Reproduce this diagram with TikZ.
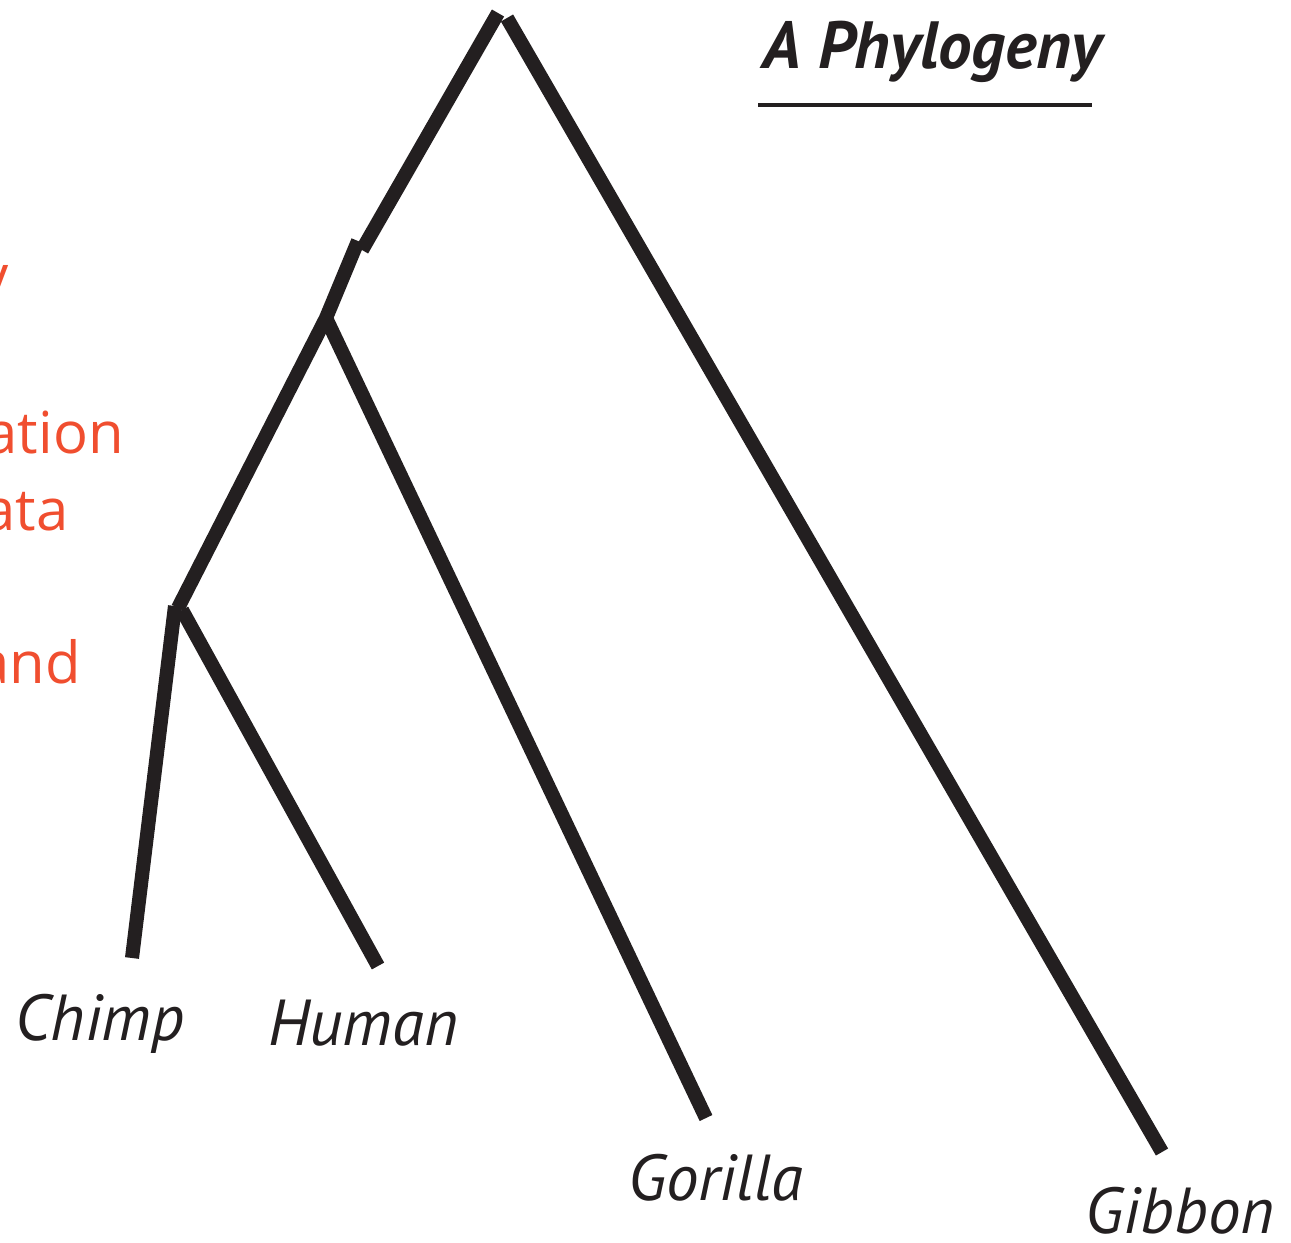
\documentclass[tikz,border=0pt]{standalone}
\usepackage{fontspec}
\setmainfont{PT Sans}
\newfontfamily\notefont{Open Sans}
\usepackage{xcolor}
\usepackage{tikz}
\usetikzlibrary{positioning}
\definecolor{ink}{HTML}{231F20}
\definecolor{note}{HTML}{F04E2F}

\begin{document}
\begin{tikzpicture}[x=0.02cm, y=-0.02cm, branch/.style={line width=8pt, draw=ink}, taxon/.style={font=\itshape\fontsize{37}{42}\selectfont, text=ink, inner sep=0pt, anchor=base}, remark/.style={font=\notefont\fontsize{33}{40}\selectfont, text=note, inner sep=0pt, anchor=base east}]
\useasboundingbox (0,0) rectangle (1291,1242);
\clip (0,0) rectangle (1291,1242);
% tree points
\coordinate (rootL) at (498,13);
\coordinate (rootR) at (507,18);
\coordinate (rootEnd) at (362,250);
\coordinate (hcgTop) at (358,241);
\coordinate (hcg) at (326,318);
\coordinate (hc) at (178,608);
\coordinate (hcL) at (175,606);
\coordinate (hcR) at (182,610);
\node[taxon] (chimp) at (100,1040) {Chimp};
\node[taxon] (human) at (363,1045) {Human};
\node[taxon] (gorilla) at (716,1200) {Gorilla};
\node[taxon] (gibbon) at (1180,1233) {Gibbon};
\coordinate (chimpTip) at (132,958);
\coordinate (humanTip) at (378,966);
\coordinate (gorillaTip) at (706,1118);
\coordinate (gibbonTip) at (1162,1152);
\draw[branch] (rootL) -- (rootEnd);
\draw[branch] (rootR) -- (gibbonTip);
\draw[branch] (hcgTop) -- (hcg) -- (hc);
\draw[branch] (hcg) -- (gorillaTip);
\draw[branch] (hcL) -- (chimpTip);
\draw[branch] (hcR) -- (humanTip);
% title
\node[font=\bfseries\itshape\fontsize{38}{44}\selectfont, text=ink, inner sep=0pt, anchor=base] (title) at (932,68) {A Phylogeny};
\coordinate (ulL) at (758,105);
\coordinate (ulR) at (1092,105);
\draw[ink, line width=2.8pt] (ulL) -- (ulR);
% cut-off notes
\node[remark] (n1) at (9,296) {y};
\node[remark] (n2) at (124,453) {ation};
\node[remark] (n3) at (69,530) {ata};
\node[remark] (n4) at (81,683) {and};
\end{tikzpicture}
\end{document}
